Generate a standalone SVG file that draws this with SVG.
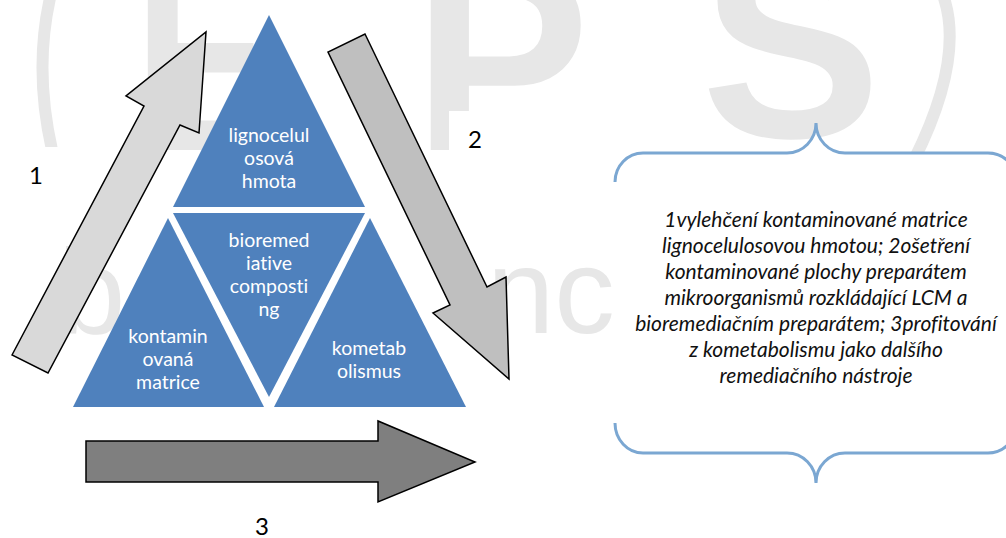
<svg xmlns="http://www.w3.org/2000/svg" width="1006" height="538" viewBox="0 0 1006 538">
  <style>
    .wm { fill: #e7e7e7; font-family: "Liberation Sans", Arial, sans-serif; }
    .wmb { font-weight: bold; font-size: 265px; }
    .tri { fill: #4f81bd; }
    .tt { fill: #ffffff; font-family: Lato, "Open Sans", sans-serif; font-size: 19.5px; text-anchor: middle; font-variant-ligatures: none; }
    .arr { stroke: #000000; stroke-width: 1.5; stroke-linejoin: miter; }
    .num { fill: #000000; font-family: Lato, "Open Sans", sans-serif; font-size: 24px; text-anchor: middle; }
    .brace { fill: none; stroke: #7ba7d2; stroke-width: 3; }
    .bt { fill: #111111; font-family: Lato, "Open Sans", sans-serif; font-style: italic; font-size: 21px; text-anchor: middle; font-variant-ligatures: none; }
  </style>
  <rect width="1006" height="538" fill="#ffffff"/>

  <g id="watermark">
    <path d="M50,-2 Q34,70 52,150" fill="none" stroke="#e7e7e7" stroke-width="12"/>
    <path d="M944,-2 Q964,60 914,160" fill="none" stroke="#e7e7e7" stroke-width="12"/>
    <text class="wm wmb" transform="translate(134,150) scale(0.78,1)">E</text>
    <text class="wm wmb" transform="translate(413,150)">P</text>
    <text class="wm wmb" x="701" y="137" style="font-size:270px">S</text>
    <text class="wm" x="58" y="333" style="font-size:121px">b</text>
    <text class="wm" x="487" y="333" style="font-size:121px">nc</text>
    <rect x="0" y="147" width="73" height="63" fill="#ffffff"/>
    <rect x="449" y="111" width="70" height="58" fill="#ffffff"/>
  </g>

  <g id="node-lignocelulosova">
    <polygon class="tri" points="269,15 173,207 365,207"/>
    <text class="tt" x="269" y="142">lignocelul</text>
    <text class="tt" x="269" y="165">osová</text>
    <text class="tt" x="269" y="188">hmota</text>
  </g>
  <g id="node-bioremediative">
    <polygon class="tri" points="173,213 365,213 269,397"/>
    <text class="tt" x="269" y="247">bioremed</text>
    <text class="tt" x="269" y="270">iative</text>
    <text class="tt" x="269" y="293">composti</text>
    <text class="tt" x="269" y="316">ng</text>
  </g>
  <g id="node-kontaminovana">
    <polygon class="tri" points="168,218 73,407 264,407"/>
    <text class="tt" x="168" y="343">kontamin</text>
    <text class="tt" x="168" y="366">ovaná</text>
    <text class="tt" x="168" y="389">matrice</text>
  </g>
  <g id="node-kometabolismus">
    <polygon class="tri" points="370,218 274,407 466,407"/>
    <text class="tt" x="369" y="355">kometab</text>
    <text class="tt" x="369" y="378">olismus</text>
  </g>

  <g id="connectors">
    <polygon id="arrow-1" class="arr" fill="#d9d9d9" points="12,355 144,106 126,96 206,32 199,133 180,125 48,373"/>
    <polygon id="arrow-2" class="arr" fill="#bfbfbf" points="365,34 487,287 506,277 509,379 433,313 450,305 328,52"/>
    <polygon id="arrow-3" class="arr" fill="#7f7f7f" points="86,441 378,441 378,421 475,462 378,502 378,482 86,482"/>
  </g>

  <g id="labels">
    <text class="num" x="36" y="184">1</text>
    <text class="num" x="475" y="148">2</text>
    <text class="num" x="262" y="535">3</text>
  </g>

  <g id="node-description">
    <path fill="#ffffff" d="M615,182 A28,29 0 0 1 643,153 L787,153 A29,30 0 0 0 816,123 A29,30 0 0 0 845,153 L988,153 A29,29 0 0 1 1017,182 L1017,423 A29,30 0 0 1 988,453 L845,453 A29,30 0 0 0 816,483 A29,30 0 0 0 787,453 L643,453 A28,30 0 0 1 615,423 Z"/>
    <path class="brace" d="M615,182 A28,29 0 0 1 643,153 L787,153 A29,30 0 0 0 816,123 A29,30 0 0 0 845,153 L988,153 A29,29 0 0 1 1017,182"/>
    <path class="brace" d="M615,423 A28,30 0 0 0 643,453 L787,453 A29,30 0 0 1 816,483 A29,30 0 0 1 845,453 L988,453 A29,30 0 0 0 1017,423"/>
    <text class="bt" x="816" y="227">1vylehčení kontaminované matrice</text>
    <text class="bt" x="816" y="253">lignocelulosovou hmotou; 2ošetření</text>
    <text class="bt" x="816" y="279">kontaminované plochy preparátem</text>
    <text class="bt" x="816" y="305">mikroorganismů rozkládající LCM a</text>
    <text class="bt" x="816" y="331">bioremediačním preparátem; 3profitování</text>
    <text class="bt" x="816" y="357">z kometabolismu jako dalšího</text>
    <text class="bt" x="816" y="383">remediačního nástroje</text>
  </g>
</svg>
